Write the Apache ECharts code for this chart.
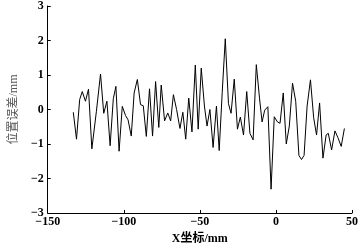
<!DOCTYPE html>
<html lang="zh">
<head>
    <meta charset="UTF-8">
    <title>位置误差</title>
    <style>
        * { margin: 0; padding: 0; }
        #main { width: 362px; height: 250px; background: #fff; }
    </style>
    <script src="https://cdn.jsdelivr.net/npm/echarts@6/dist/echarts.min.js"></script>
</head>
<body>
<div id="main"></div>
<script>
    // X坐标 (mm)
    var xPos = [-133.2, -131.1, -129.0, -127.3, -125.2, -123.2, -121.0, -118.0, -115.3, -113.2,
        -111.1, -109.0, -106.9, -105.2, -103.1, -101.0, -98.9, -97.2, -95.1, -93.2,
        -91.1, -89.0, -87.2, -85.2, -83.1, -81.1, -79.1, -77.0, -75.4, -73.2,
        -71.1, -69.2, -67.4, -65.3, -63.1, -61.2, -59.3, -57.3, -55.2, -53.0,
        -51.1, -49.1, -47.0, -45.3, -43.4, -41.3, -39.1, -37.3, -35.3, -33.3,
        -31.2, -29.5, -27.4, -25.3, -23.4, -21.3, -19.2, -17.1, -15.0, -12.9,
        -10.8, -9.1, -7.4, -5.3, -3.2, -1.1, 1.0, 2.7, 4.8, 6.8,
        8.8, 10.9, 13.0, 15.1, 16.8, 18.5, 20.5, 22.7, 24.8, 26.7,
        28.7, 30.9, 33.0, 34.4, 36.6, 38.8, 40.7, 42.9, 45.0];
    // 位置误差 (mm)
    var errVal = [-0.08, -0.86, 0.29, 0.52, 0.24, 0.59, -1.14, -0.05, 1.03, -0.11,
        0.24, -1.05, 0.31, 0.67, -1.21, 0.09, -0.17, -0.3, -0.77, 0.48,
        0.87, 0.14, 0.11, -0.78, 0.6, -0.77, 0.81, -0.52, 0.71, -0.33,
        -0.1, -0.33, 0.43, 0, -0.55, -0.08, -0.86, 0.33, -0.65, 1.29,
        -0.57, 1.2, 0.1, -0.48, 0, -1.1, 0.1, -1.19, 0.5, 2.05,
        0.17, -0.11, 0.88, -0.57, -0.22, -0.74, 0.52, -0.69, -0.88, 1.3,
        0.33, -0.36, -0.02, 0.08, -2.31, -0.21, -0.36, -0.4, 0.48, -1.0,
        -0.48, 0.76, 0.24, -1.33, -1.45, -1.33, 0.1, 0.86, -0.24, -0.74,
        0.19, -1.41, -0.74, -0.69, -1.17, -0.62, -0.81, -1.07, -0.55];

    var pts = [];
    for (var i = 0; i < xPos.length; i++) {
        pts.push([xPos[i], errVal[i]]);
    }

    // 负号用 −
    function fmt(v) {
        return String(v).replace('-', '\u2212');
    }

    var font = 'Liberation Serif, Noto Sans CJK SC, serif';
    var myChart = echarts.init(document.getElementById('main'));
    var option = {
        animation: false,
        grid: { left: 35, right: 10, top: 5, bottom: 35 },
        xAxis: {
            type: 'value',
            min: -150,
            max: 50,
            interval: 50,
            name: 'X坐标/mm',
            nameLocation: 'middle',
            nameGap: 20,
            nameTextStyle: { color: '#000', fontFamily: font, fontWeight: 'bold', fontSize: 12 },
            axisLine: { onZero: false, lineStyle: { color: '#000', width: 1 } },
            axisTick: { inside: true, length: 3, lineStyle: { color: '#000' } },
            axisLabel: { color: '#000', fontFamily: font, fontWeight: 'bold', fontSize: 12, margin: 3, formatter: fmt },
            splitLine: { show: false }
        },
        yAxis: {
            type: 'value',
            min: -3,
            max: 3,
            interval: 1,
            name: '位置误差/mm',
            nameLocation: 'middle',
            nameGap: 21,
            nameRotate: 90,
            nameTextStyle: { color: '#555', fontFamily: font, fontSize: 12 },
            axisLine: { show: true, onZero: false, lineStyle: { color: '#000', width: 1 } },
            axisTick: { show: true, inside: true, length: 3, lineStyle: { color: '#000' } },
            axisLabel: { color: '#000', fontFamily: font, fontWeight: 'bold', fontSize: 12, margin: 4, formatter: fmt },
            splitLine: { show: false }
        },
        series: [
            {
                type: 'line',
                data: pts,
                showSymbol: false,
                lineStyle: { color: '#000', width: 1 }
            }
        ]
    };
    myChart.setOption(option);
</script>
</body>
</html>
